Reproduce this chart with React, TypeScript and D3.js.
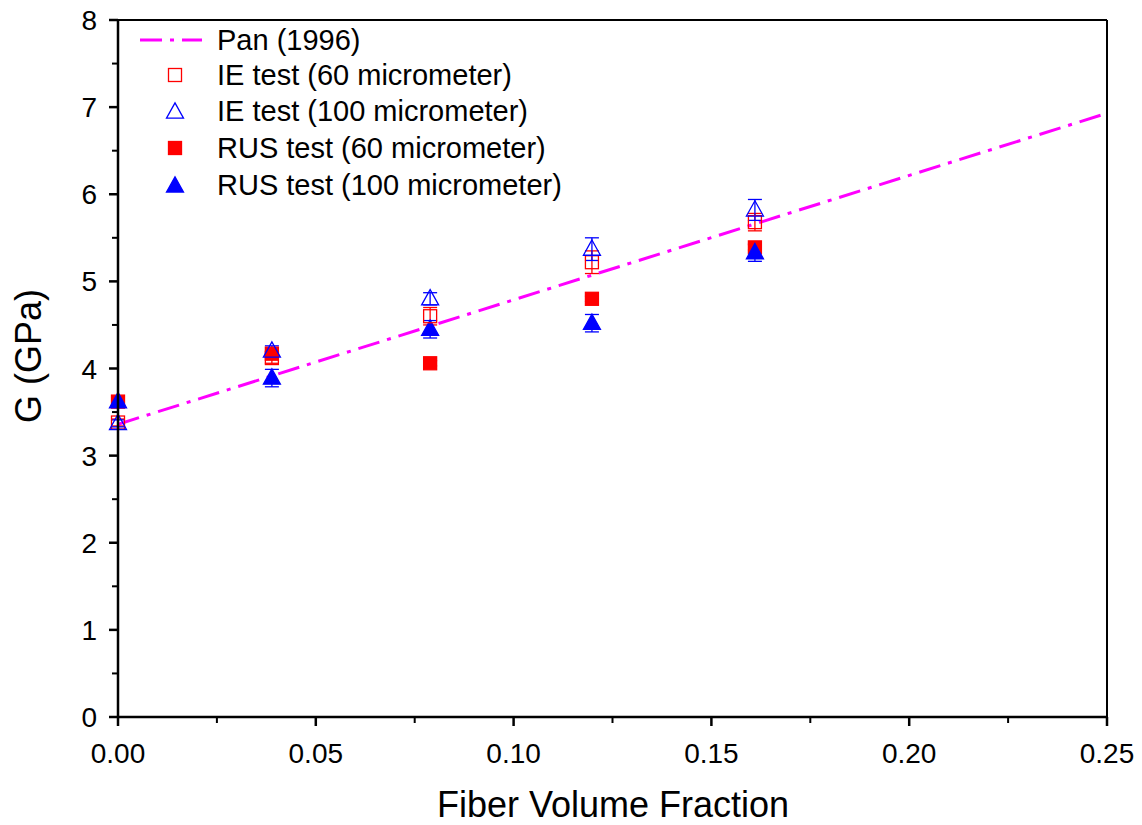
import React from "react";
import * as d3 from "d3";

const xValues = [0, 0.0389, 0.0789, 0.1198, 0.161];
const ie60 = [3.38, 4.12, 4.6, 5.22, 5.68];
const ie60Err = [0.04, 0.06, 0.1, 0.13, 0.1];
const ie100 = [3.37, 4.2, 4.8, 5.37, 5.82];
const ie100Err = [0.04, 0.06, 0.07, 0.13, 0.12];
const rus60 = [3.62, 4.17, 4.06, 4.8, 5.39];
const rus60Err = [0.02, 0.03, 0.03, 0.03, 0.03];
const rus100 = [3.62, 3.89, 4.45, 4.52, 5.33];
const rus100Err = [0.05, 0.1, 0.1, 0.1, 0.1];
const panX = [0, 0.25];
const panY = [3.36, 6.93];
const xTicks = [0, 0.05, 0.1, 0.15, 0.2, 0.25];
const yTicks = [0, 1, 2, 3, 4, 5, 6, 7, 8];
const legendLabels = [
  "Pan (1996)",
  "IE test (60 micrometer)",
  "IE test (100 micrometer)",
  "RUS test (60 micrometer)",
  "RUS test (100 micrometer)",
];

const RED = "#ff0000";
const BLUE = "#0000ff";
const MAG = "#ff00ff";
const FONT = "'Liberation Sans', Arial, sans-serif";

export default function App() {
  const W = 1142, H = 825;
  const L = 118, R = 1107, T = 20, B = 717;
  const x = d3.scaleLinear().domain([0, 0.25]).range([L, R]);
  const y = d3.scaleLinear().domain([0, 8]).range([B, T]);
  const line = d3.line<number>().x((_, i) => x(panX[i])).y((d) => y(d));

  const sq = (cx: number, cy: number, fill: string, stroke: string, key: string, s = 12) => (
    <rect key={key} x={cx - s / 2} y={cy - s / 2} width={s} height={s} fill={fill} stroke={stroke} strokeWidth={1.3} />
  );
  const tri = (cx: number, cy: number, fill: string, stroke: string, key: string, s = 16) => {
    const h = s * 0.9;
    const p = `M${cx},${cy - h * 0.6} L${cx + s / 2},${cy + h * 0.4} L${cx - s / 2},${cy + h * 0.4} Z`;
    return <path key={key} d={p} fill={fill} stroke={stroke} strokeWidth={1.3} />;
  };
  const err = (vals: number[], errs: number[], color: string, prefix: string) =>
    vals.map((v, i) => {
      const cx = x(xValues[i]);
      const y1 = y(v + errs[i]);
      const y2 = y(v - errs[i]);
      return (
        <g key={prefix + i} stroke={color} strokeWidth={1.3}>
          <line x1={cx} x2={cx} y1={y1} y2={y2} />
          <line x1={cx - 7} x2={cx + 7} y1={y1} y2={y1} />
          <line x1={cx - 7} x2={cx + 7} y1={y2} y2={y2} />
        </g>
      );
    });

  const minorX = d3.range(0.025, 0.25, 0.05);
  const minorY = d3.range(0.5, 8, 1);

  const legY = [40, 75, 111, 148, 185];
  const dash = "22,8,4,8";

  return (
    <svg width={W} height={H} style={{ display: "block", position: "absolute", left: 0, top: 0 }} fontFamily={FONT}>
      <rect width={W} height={H} fill="#fff" />
      <defs>
        <clipPath id="plot">
          <rect x={L} y={T} width={R - L} height={B - T} />
        </clipPath>
      </defs>
      {/* Pan line */}
      <path d={line(panY) || ""} fill="none" stroke={MAG} strokeWidth={3} strokeDasharray={dash} clipPath="url(#plot)" />
      {/* error bars */}
      {err(ie60, ie60Err, RED, "e1")}
      {err(ie100, ie100Err, BLUE, "e2")}
      {err(rus60, rus60Err, RED, "e3")}
      {err(rus100, rus100Err, BLUE, "e4")}
      {/* markers */}
      {rus60.map((v, i) => sq(x(xValues[i]), y(v), RED, RED, "r60" + i, 13))}
      {rus100.map((v, i) => tri(x(xValues[i]), y(v), BLUE, BLUE, "r100" + i, 17))}
      {ie60.map((v, i) => sq(x(xValues[i]), y(v), "none", RED, "i60" + i, 13))}
      {ie100.map((v, i) => tri(x(xValues[i]), y(v), "none", BLUE, "i100" + i, 17))}
      {/* frame */}
      <line x1={L} x2={R} y1={T} y2={T} stroke="#000" strokeWidth={2} />
      <line x1={R} x2={R} y1={T} y2={B} stroke="#000" strokeWidth={2} />
      <line x1={L} x2={L} y1={T - 1} y2={B + 1} stroke="#000" strokeWidth={2.5} />
      <line x1={L - 1} x2={R + 1} y1={B} y2={B} stroke="#000" strokeWidth={2.5} />
      {/* x ticks */}
      {xTicks.map((t) => (
        <g key={"xt" + t}>
          <line x1={x(t)} x2={x(t)} y1={B} y2={B + 9} stroke="#000" strokeWidth={2.5} />
          <text x={x(t)} y={B + 46} textAnchor="middle" fontSize={28} fill="#000">
            {t.toFixed(2)}
          </text>
        </g>
      ))}
      {minorX.map((t) => (
        <line key={"xm" + t} x1={x(t)} x2={x(t)} y1={B} y2={B + 6} stroke="#000" strokeWidth={2} />
      ))}
      {/* y ticks */}
      {yTicks.map((t) => (
        <g key={"yt" + t}>
          <line x1={L - 9} x2={L} y1={y(t)} y2={y(t)} stroke="#000" strokeWidth={2.5} />
          <text x={L - 21} y={y(t) + 10} textAnchor="end" fontSize={28} fill="#000">
            {t}
          </text>
        </g>
      ))}
      {minorY.map((t) => (
        <line key={"ym" + t} x1={L - 6} x2={L} y1={y(t)} y2={y(t)} stroke="#000" strokeWidth={2} />
      ))}
      {/* axis titles */}
      <text x={613} y={817} textAnchor="middle" fontSize={36} fill="#000">
        Fiber Volume Fraction
      </text>
      <text transform={`translate(41,356) rotate(-90)`} textAnchor="middle" fontSize={36} fill="#000">
        G (GPa)
      </text>
      {/* legend */}
      <line x1={140} x2={202} y1={legY[0]} y2={legY[0]} stroke={MAG} strokeWidth={3} strokeDasharray={dash} />
      {sq(175, legY[1], "none", RED, "l1", 13)}
      {tri(175, legY[2] + 1, "none", BLUE, "l2", 17)}
      {sq(175, legY[3], RED, RED, "l3", 13)}
      {tri(175, legY[4] + 1, BLUE, BLUE, "l4", 17)}
      {legendLabels.map((s, i) => (
        <text key={"lg" + i} x={217} y={legY[i] + 10} fontSize={29} fill="#000">
          {s}
        </text>
      ))}
    </svg>
  );
}
